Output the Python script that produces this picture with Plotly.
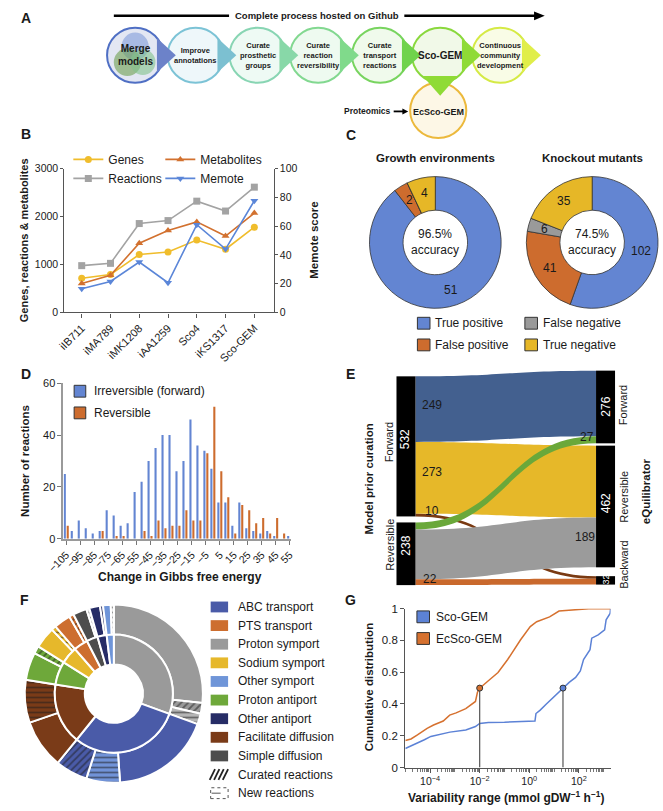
import plotly.graph_objects as go
import math

W, H = 663, 811
def px(x): return x / W
def py(y): return 1 - y / H

FONT = "Liberation Sans, Arial, sans-serif"
NARROW = "Liberation Sans Narrow, Liberation Sans, Arial, sans-serif"
INK = "#1a1a1a"

# ======================= DATA =======================
# A: workflow
steps = ["Merge<br>models", "Improve<br>annotations", "Curate<br>prosthetic<br>groups",
         "Curate<br>reaction<br>reversibility", "Curate<br>transport<br>reactions",
         "Sco-GEM", "Continuous<br>community<br>development"]
workflow_title = "Complete process hosted on Github"
ec_model = "EcSco-GEM"
ec_input = "Proteomics"

# B: model comparison
models = ["iIB711", "iMA789", "iMK1208", "iAA1259", "Sco4", "iKS1317", "Sco-GEM"]
genes = [711, 789, 1208, 1259, 1510, 1317, 1777]
reactions = [975, 1023, 1853, 1915, 2320, 2114, 2612]
metabolites = [604, 776, 1442, 1709, 1888, 1593, 2073]
memote = [16.5, 21.5, 35, 20.6, 61, 44, 77.6]

# C: validation
conf_labels = ["True positive", "False positive", "False negative", "True negative"]
growth_counts = [51, 2, 0, 4]
knockout_counts = [102, 41, 6, 35]
growth_accuracy = "96.5%"
knockout_accuracy = "74.5%"

# D: Gibbs free energy histogram
dg_bins = [-105, -100, -95, -90, -85, -80, -75, -70, -65, -60, -55, -50, -45, -40, -35, -30,
           -25, -20, -15, -10, -5, 0, 5, 10, 15, 20, 25, 30, 35, 40, 45, 50, 55]
irrev_counts = [25, 3, 7, 4, 2, 3, 11, 9, 5, 6, 18, 22, 30, 35, 40, 40,
                26, 30, 46, 36, 34, 27, 14, 14, 5, 14, 4, 3, 2, 3, 1, 0, 1]
rev_counts = [5, 0, 0, 0, 0, 3, 0, 1, 1, 0, 0, 3, 1, 7, 4, 5,
              5, 11, 7, 7, 33, 51, 26, 16, 2, 13, 11, 6, 8, 2, 8, 2, 0]
dg_ticks = [-105, -95, -85, -75, -65, -55, -45, -35, -25, -15, -5, 5, 15, 25, 35, 45, 55]

# E: reversibility sankey
prior_states = ["Forward", "Reversible"]
eq_states = ["Forward", "Reversible", "Backward"]
flow_from = ["Forward", "Forward", "Forward", "Reversible", "Reversible", "Reversible"]
flow_to = ["Forward", "Reversible", "Backward", "Forward", "Reversible", "Backward"]
flow_count = [249, 273, 10, 27, 189, 22]

# F: transport reactions
categories = ["ABC transport", "PTS transport", "Proton symport", "Sodium symport", "Other symport",
              "Proton antiport", "Other antiport", "Facilitate diffusion", "Simple diffusion"]
outer_cat = ["Proton symport", "Proton symport", "Proton symport",
             "ABC transport", "ABC transport", "ABC transport",
             "Facilitate diffusion", "Facilitate diffusion",
             "Proton antiport", "Proton antiport",
             "Sodium symport", "Sodium symport",
             "PTS transport", "PTS transport",
             "Simple diffusion", "Simple diffusion",
             "Other antiport", "Other antiport",
             "Other symport", "Other symport"]
outer_kind = ["Original", "Curated", "New",
              "Original", "New", "Curated",
              "Original", "New",
              "Original", "Curated",
              "Original", "New",
              "Original", "Curated",
              "Original", "New",
              "Original", "Curated",
              "Original", "New"]
outer_count = [96, 7, 7, 66, 22, 21, 32, 28, 18, 5, 14, 3, 11, 3, 9, 2, 7, 2, 5, 2]

# G: flux variability
sco_log10_range = [-5.0, -4.62, -4.23, -3.97, -3.58, -3.2, -2.56, -2.17, -2.0, -1.65, -1.0, 0.04, 0.23, 0.27,
                   0.43, 0.69, 0.95, 1.21, 1.36, 1.61, 1.87, 2.06, 2.19, 2.45, 2.52, 2.78, 3.04, 3.1, 3.26, 3.28]
sco_cdf = [0.12, 0.145, 0.175, 0.196, 0.21, 0.223, 0.237, 0.258, 0.278, 0.284, 0.285, 0.289, 0.293, 0.34,
           0.36, 0.40, 0.44, 0.48, 0.50, 0.536, 0.567, 0.608, 0.68, 0.742, 0.814, 0.835, 0.866, 0.93, 0.97, 1.0]
ecsco_log10_range = [-5.0, -4.77, -4.51, -4.12, -3.86, -3.47, -3.21, -2.95, -2.56, -2.17, -2.09, -2.0,
                     -1.65, -1.26, -0.87, -0.61, -0.35, 0.04, 0.30, 0.82, 1.2, 1.6, 2.4, 3.28]
ecsco_cdf = [0.17, 0.18, 0.206, 0.247, 0.268, 0.293, 0.33, 0.344, 0.371, 0.416, 0.474, 0.5,
             0.546, 0.598, 0.68, 0.742, 0.804, 0.887, 0.918, 0.948, 0.985, 0.99, 1.0, 1.0]
median_log10 = [1.36, -2.0]
median_cdf = [0.5, 0.5]

# ======================= STYLE =======================
C_BLUE = "#6385d2"
C_ORANGE = "#cd6c2e"

fig = go.Figure()
annotations = []
shapes = []

def text(x, y, s, size=12, bold=False, color=INK, angle=0, xanchor="center", yanchor="middle", family=FONT):
    if bold:
        s = f"<b>{s}</b>"
    annotations.append(dict(x=px(x), y=py(y), xref="paper", yref="paper", text=s, showarrow=False,
                            font=dict(size=size, color=color, family=family), textangle=angle,
                            xanchor=xanchor, yanchor=yanchor, borderpad=0))

def rect(x0, y0, x1, y1, fill, line="rgba(0,0,0,0)", lw=0, dash="solid"):
    shapes.append(dict(type="rect", xref="paper", yref="paper", x0=px(x0), x1=px(x1), y0=py(y1), y1=py(y0),
                       fillcolor=fill, line=dict(color=line, width=lw, dash=dash)))

def ellipse(cx, cy, rx, ry, fill, line, lw):
    shapes.append(dict(type="circle", xref="paper", yref="paper", x0=px(cx - rx), x1=px(cx + rx),
                       y0=py(cy + ry), y1=py(cy - ry), fillcolor=fill, line=dict(color=line, width=lw)))

def poly(points, fill):
    path = "M " + " L ".join(f"{px(x):.5f},{py(y):.5f}" for x, y in points) + " Z"
    shapes.append(dict(type="path", xref="paper", yref="paper", path=path, fillcolor=fill,
                       line=dict(width=0)))

def seg(x0, y0, x1, y1, color=INK, width=1, dash="solid"):
    shapes.append(dict(type="line", xref="paper", yref="paper", x0=px(x0), y0=py(y0), x1=px(x1), y1=py(y1),
                       line=dict(color=color, width=width, dash=dash)))

# ======================= PANEL A =======================
a_cx = [122, 184.5, 248.5, 311, 375, 437, 499]
a_cy, a_rx, a_ry = 50, 29, 28
a_border = ["#4f6fc4", "#7cc3d6", "#88d5b3", "#82d890", "#78d45f", "#8ad83d", "#d5ea45"]
a_fill = ["#e3e7f3", "#eef7fa", "#eefaf4", "#eefaf0", "#f0faec", "#f1f9e8", "#f9fce6"]
a_tri = ["#6c82c9", "#7cc0d1", "#88d8a8", "#80da8b", "#70d34c", "#8fdb36", "#e0ee4a"]

TY = 10
seg(100, TY, 219, TY, "black", 2.5)
seg(400, TY, 536, TY, "black", 2.5)
poly([(534, TY - 4.5), (545, TY), (534, TY + 4.5)], "black")
text(309.5, TY, workflow_title, size=9.5, bold=True, family=NARROW)

ellipse(435, 106, a_rx, a_ry, "#fdf7e6", "#ecb93c", 2)
for i, cx in enumerate(a_cx):
    ellipse(cx, a_cy, a_rx, a_ry, a_fill[i], a_border[i], 2)
ellipse(a_cx[0], a_cy - 9, 14, 14, "rgba(120,150,215,0.55)", "rgba(0,0,0,0)", 0)
ellipse(a_cx[0] - 8, a_cy + 7, 14, 14, "rgba(110,160,80,0.6)", "rgba(0,0,0,0)", 0)
ellipse(a_cx[0] + 8, a_cy + 7, 13, 13, "rgba(130,195,140,0.6)", "rgba(0,0,0,0)", 0)
for i, cx in enumerate(a_cx):
    poly([(cx + 22.5, a_cy - 17.5), (cx + 42, a_cy), (cx + 22.5, a_cy + 17.5)], a_tri[i])
poly([(a_cx[5] - 18, 71), (a_cx[5] + 18, 71), (a_cx[5], 91)], a_tri[5])

for i, cx in enumerate(a_cx):
    big = i in (0, 5)
    text(cx, a_cy, steps[i], size=10 if big else 7.5, bold=True, family=NARROW)
text(435, 108, ec_model, size=9, bold=True, family=NARROW)
text(362, 107, ec_input, size=8.5, bold=True, family=NARROW)
seg(389, 107, 399, 107, "black", 1.8)
poly([(398, 104), (404, 107), (398, 110)], "black")

# ======================= PANEL B =======================
b_specs = [("Genes", genes, "#f0bd2c", "circle", "legend", "y"),
           ("Reactions", reactions, "#a3a3a3", "square", "legend", "y"),
           ("Metabolites", metabolites, "#d2712f", "triangle-up", "legend2", "y"),
           ("Memote", memote, "#5b86d8", "triangle-down", "legend2", "y2")]
for name, vals, col, sym, leg, yax in b_specs:
    fig.add_trace(go.Scatter(x=models, y=vals, name=name, mode="lines+markers", xaxis="x", yaxis=yax,
                             line=dict(color=col, width=1.6), marker=dict(color=col, symbol=sym, size=7),
                             legend=leg, cliponaxis=False))

# ======================= PANEL C =======================
c_colors = [C_BLUE, C_ORANGE, "#9a9a9a", "#e6b727"]
pies_c = [(growth_counts, 432, 240, growth_accuracy, "Growth environments"),
          (knockout_counts, 594, 240, knockout_accuracy, "Knockout mutants")]
R_C = 68
for counts, cx, cy, acc, title in pies_c:
    fig.add_trace(go.Pie(labels=conf_labels, values=counts, sort=False, direction="clockwise", rotation=0,
                         hole=0.49, textinfo="none", hoverinfo="skip", showlegend=False,
                         marker=dict(colors=c_colors, line=dict(color="#333333", width=0.8)),
                         domain=dict(x=[px(cx - R_C), px(cx + R_C)], y=[py(cy + R_C), py(cy - R_C)])))
    total = sum(counts)
    cum = 0
    for v in counts:
        if v > 0:
            mid = (cum + v / 2) / total * 2 * math.pi
            text(cx + 51 * math.sin(mid), cy - 51 * math.cos(mid), str(v), size=12)
        cum += v
    text(cx, cy, f"{acc}<br>accuracy", size=12)
    text(cx, 154, title, size=11.5, bold=True)

c_leg = [(0, 420, 322), (1, 420, 344), (2, 531, 322), (3, 531, 344)]
for idx, bx, by in c_leg:
    rect(bx - 6.5, by - 6, bx + 6.5, by + 6, c_colors[idx], "#333333", 1)
    text(bx + 11, by, conf_labels[idx], size=12, xanchor="left")

# ======================= PANEL D =======================
fig.add_trace(go.Bar(x=dg_bins, y=irrev_counts, name="Irreversible (forward)", xaxis="x3", yaxis="y3",
                     width=1.5, offset=-1.8, marker=dict(color=C_BLUE, line=dict(width=0)), showlegend=False))
fig.add_trace(go.Bar(x=dg_bins, y=rev_counts, name="Reversible", xaxis="x3", yaxis="y3",
                     width=1.5, offset=0.3, marker=dict(color=C_ORANGE, line=dict(width=0)), showlegend=False))
for i, (nm, col) in enumerate([("Irreversible (forward)", C_BLUE), ("Reversible", C_ORANGE)]):
    by = 391 + 22 * i
    rect(59, by - 6, 71, by + 6, col, "#333333", 1)
    text(78, by, nm, size=12, xanchor="left")

# ======================= PANEL E =======================
node_names = prior_states + eq_states
src = [prior_states.index(s) for s in flow_from]
tgt = [len(prior_states) + eq_states.index(t) for t in flow_to]
link_colors = ["#43608f", "#e6b829", "#7a3a12", "#6aa83a", "#9b9b9b", "#c9692d"]
E_TOP, E_BOT = 370, 588
node_y_px = [447, 556, 407, 508, 583]
fig.add_trace(go.Sankey(
    domain=dict(x=[px(401.5), px(608)], y=[py(E_BOT), py(E_TOP)]),
    arrangement="fixed",
    node=dict(label=["" for _ in node_names], x=[0.001, 0.001, 0.999, 0.999, 0.999],
              y=[(v - E_TOP) / (E_BOT - E_TOP) for v in node_y_px],
              pad=6, thickness=19, color="black", line=dict(width=0)),
    link=dict(source=src, target=tgt, value=flow_count, color=link_colors),
    hoverinfo="skip"))
node_tot = [sum(c for f, c in zip(flow_from, flow_count) if f == s) for s in prior_states] + \
           [sum(c for t, c in zip(flow_to, flow_count) if t == s) for s in eq_states]
node_lbl_pos = [(401.5, 440), (401.5, 548), (608, 407), (608, 505), (608.5, 582)]
for tot, (x, y) in zip(node_tot, node_lbl_pos):
    text(x, y, str(tot), size=12 if tot > 50 else 9, color="white", angle=-90)
side_left = [(385, 443), (385, 547)]
for s, (x, y) in zip(prior_states, side_left):
    text(x, y, s, size=11, angle=-90)
side_right = [(626, 405), (626, 498), (626, 567)]
for s, (x, y) in zip(eq_states, side_right):
    text(x, y, s, size=11, angle=-90)
flow_lbl_pos = [(429, 405), (429, 473), (429, 513), (589, 437), (587, 539), (427, 582)]
for c, (x, y) in zip(flow_count, flow_lbl_pos):
    text(x, y, str(c), size=12)
text(363, 480, "Model prior curation", size=11.5, bold=True, angle=-90)
text(649, 492, "eQuilibrator", size=11.5, bold=True, angle=-90)

# ======================= PANEL F =======================
cat_color = {"ABC transport": "#4a5ba8", "PTS transport": "#cd6e2f", "Proton symport": "#9a9a9a",
             "Sodium symport": "#e6b82b", "Other symport": "#6f95d8", "Proton antiport": "#6ea83a",
             "Other antiport": "#262c66", "Facilitate diffusion": "#7a3b18", "Simple diffusion": "#4d4d4d"}
new_color = {"ABC transport": "#7193d8", "Proton symport": "#b5b5b5", "Simple diffusion": "#e8e8e8",
             "Other symport": "#e8e8e8"}
ring_order = []
for c in outer_cat:
    if c not in ring_order:
        ring_order.append(c)
inner_count = [sum(v for c, v in zip(outer_cat, outer_count) if c == cat) for cat in ring_order]
outer_colors = []
outer_shapes = []
for c, k in zip(outer_cat, outer_kind):
    if k == "New":
        outer_colors.append(new_color.get(c, cat_color[c]))
        outer_shapes.append("-")
    elif k == "Curated":
        outer_colors.append(cat_color[c])
        outer_shapes.append("/")
    else:
        outer_colors.append(cat_color[c])
        outer_shapes.append("")
FCX, FCY, FR_OUT, FR_IN = 100, 698, 92, 61
fig.add_trace(go.Pie(labels=[f"{c} - {k}" for c, k in zip(outer_cat, outer_kind)], values=outer_count,
                     sort=False, direction="clockwise", rotation=0, hole=FR_IN / FR_OUT,
                     textinfo="none", hoverinfo="skip", showlegend=False,
                     marker=dict(colors=outer_colors, line=dict(color="white", width=2),
                                 pattern=dict(shape=outer_shapes, fillmode="overlay", fgcolor="#1e1e1e",
                                              size=5, solidity=0.35)),
                     domain=dict(x=[px(FCX - FR_OUT), px(FCX + FR_OUT)], y=[py(FCY + FR_OUT), py(FCY - FR_OUT)])))
fig.add_trace(go.Pie(labels=ring_order, values=inner_count, sort=False, direction="clockwise", rotation=0,
                     hole=30 / FR_IN, textinfo="none", hoverinfo="skip", showlegend=False,
                     marker=dict(colors=[cat_color[c] for c in ring_order], line=dict(color="white", width=2)),
                     domain=dict(x=[px(FCX - FR_IN), px(FCX + FR_IN)], y=[py(FCY + FR_IN), py(FCY - FR_IN)])))
for i, cat in enumerate(categories):
    y = 610 + 18.9 * i
    rect(200, y - 5.5, 218, y + 5.5, cat_color[cat])
    text(227, y, cat, size=12, xanchor="left")
y = 610 + 18.9 * 9
for xx in (199, 203.5, 208, 212.5):
    seg(xx, y + 5.5, xx + 5.5, y - 5.5, "#222222", 1.8)
text(227, y, "Curated reactions", size=12, xanchor="left")
y = 610 + 18.9 * 10
rect(200, y - 5.5, 218, y + 5.5, "white", "#555555", 1, "dot")
seg(201, y, 217, y, "#555555", 1, "dash")
text(227, y, "New reactions", size=12, xanchor="left")

# ======================= PANEL G =======================
fig.add_trace(go.Scatter(x=[10 ** v for v in sco_log10_range], y=sco_cdf, mode="lines", xaxis="x4", yaxis="y4",
                         line=dict(color="#5c82d6", width=1.5), showlegend=False, name="Sco-GEM"))
fig.add_trace(go.Scatter(x=[10 ** v for v in ecsco_log10_range], y=ecsco_cdf, mode="lines", xaxis="x4",
                         yaxis="y4", line=dict(color="#d6712f", width=1.5), showlegend=False, name="EcSco-GEM"))
for mx, my, col in zip(median_log10, median_cdf, ["#5c82d6", "#d6712f"]):
    fig.add_trace(go.Scatter(x=[10 ** mx, 10 ** mx], y=[0, my], mode="lines", xaxis="x4", yaxis="y4",
                             line=dict(color="#555555", width=1.2), showlegend=False))
    fig.add_trace(go.Scatter(x=[10 ** mx], y=[my], mode="markers", xaxis="x4", yaxis="y4",
                             marker=dict(color=col, size=6, line=dict(color="#333333", width=1)),
                             showlegend=False, cliponaxis=False))
for i, (nm, col) in enumerate([("Sco-GEM", "#5c82d6"), ("EcSco-GEM", "#d6712f")]):
    by = 620 + 22 * i
    rect(413, by - 6, 426, by + 6, col, "#333333", 1)
    text(432, by, nm, size=12, xanchor="left")
minor_vals = [m * 10 ** k for k in range(-5, 4) for m in range(1, 10)]

# ======================= AXIS TITLES / PANEL LETTERS =======================
text(8, 238, "Genes, reactions & metabolites", size=11, bold=True, angle=-90)
text(307, 238, "Memote score", size=11.5, bold=True, angle=-90)
text(8, 462, "Number of reactions", size=11.5, bold=True, angle=-90)
text(168, 580, "Change in Gibbs free energy", size=12, bold=True)
text(363, 692, "Cumulative distribution", size=11.5, bold=True, angle=-90)
text(505, 803, "Variability range (mmol gDW<sup>−1</sup> h<sup>−1</sup>)", size=12, bold=True)
for letter, x, y in [("A", 9, 12), ("B", 9, 130), ("C", 345, 131), ("D", 9, 374),
                     ("E", 344, 374), ("F", 8, 603), ("G", 344, 603)]:
    text(x, y, letter, size=14, bold=True)

AX = dict(showgrid=False, zeroline=False, showline=True, ticks="outside", ticklen=4,
          tickfont=dict(size=10.5, color=INK, family=FONT))

fig.update_layout(
    width=W, height=H, margin=dict(l=0, r=0, t=0, b=0),
    paper_bgcolor="white", plot_bgcolor="rgba(0,0,0,0)",
    font=dict(family=FONT, color=INK, size=12),
    barmode="overlay",
    annotations=annotations, shapes=shapes,
    xaxis=dict(AX, domain=[px(49), px(265)], anchor="y", type="category", range=[-0.6, 6.67],
               tickangle=-45, linecolor="#555555", linewidth=1.3, tickcolor="#555555",
               tickfont=dict(size=11, color=INK, family=FONT)),
    yaxis=dict(AX, domain=[py(311), py(165)], anchor="x", range=[0, 3000], tickvals=[0, 1000, 2000, 3000],
               linecolor="#555555", linewidth=1.3, tickcolor="#555555", ticklen=3),
    yaxis2=dict(AX, overlaying="y", side="right", anchor="x", range=[0, 100],
                tickvals=[0, 20, 40, 60, 80, 100], linecolor="#555555", linewidth=1.3, tickcolor="#555555",
                ticklen=3),
    xaxis3=dict(AX, domain=[px(48), px(283)], anchor="y3", range=[-107, 56], tickvals=dg_ticks,
                ticktext=[str(t).replace("-", "−") for t in dg_ticks], tickangle=-45,
                linecolor="#9a9a9a", linewidth=2, tickcolor="#777777"),
    yaxis3=dict(AX, domain=[py(540.7), py(383)], anchor="x3", range=[0, 60], tickvals=[0, 20, 40, 60],
                linecolor="#9a9a9a", linewidth=2, tickcolor="#777777",
                tickfont=dict(size=11, color=INK, family=FONT)),
    xaxis4=dict(AX, domain=[px(401), px(613)], anchor="y4", type="log", range=[-5, 3.28],
                tickvals=[1e-4, 1e-2, 1, 1e2],
                ticktext=["10<sup>−4</sup>", "10<sup>−2</sup>", "10<sup>0</sup>", "10<sup>2</sup>"],
                linecolor="#555555", linewidth=1.3, tickcolor="#555555",
                minor=dict(ticks="outside", ticklen=3, tickvals=minor_vals, tickcolor="#777777")),
    yaxis4=dict(AX, domain=[py(773), py(611.7)], anchor="x4", range=[0, 1.0],
                tickvals=[0, 0.2, 0.4, 0.6, 0.8, 1.0], ticktext=["0", "0.2", "0.4", "0.6", "0.8", "1"],
                linecolor="#555555", linewidth=1.3, tickcolor="#555555",
                tickfont=dict(size=11.5, color=INK, family=FONT)),
    legend=dict(x=px(53), y=py(141), xanchor="left", yanchor="top", bgcolor="rgba(0,0,0,0)",
                font=dict(size=12, color=INK), itemwidth=30, tracegroupgap=0),
    legend2=dict(x=px(148), y=py(141), xanchor="left", yanchor="top", bgcolor="rgba(0,0,0,0)",
                 font=dict(size=12, color=INK), itemwidth=30, tracegroupgap=0),
)

fig.write_html("out.html", config={"displayModeBar": False},
               post_script="document.body.style.margin='0px';document.documentElement.style.overflow='hidden';")
